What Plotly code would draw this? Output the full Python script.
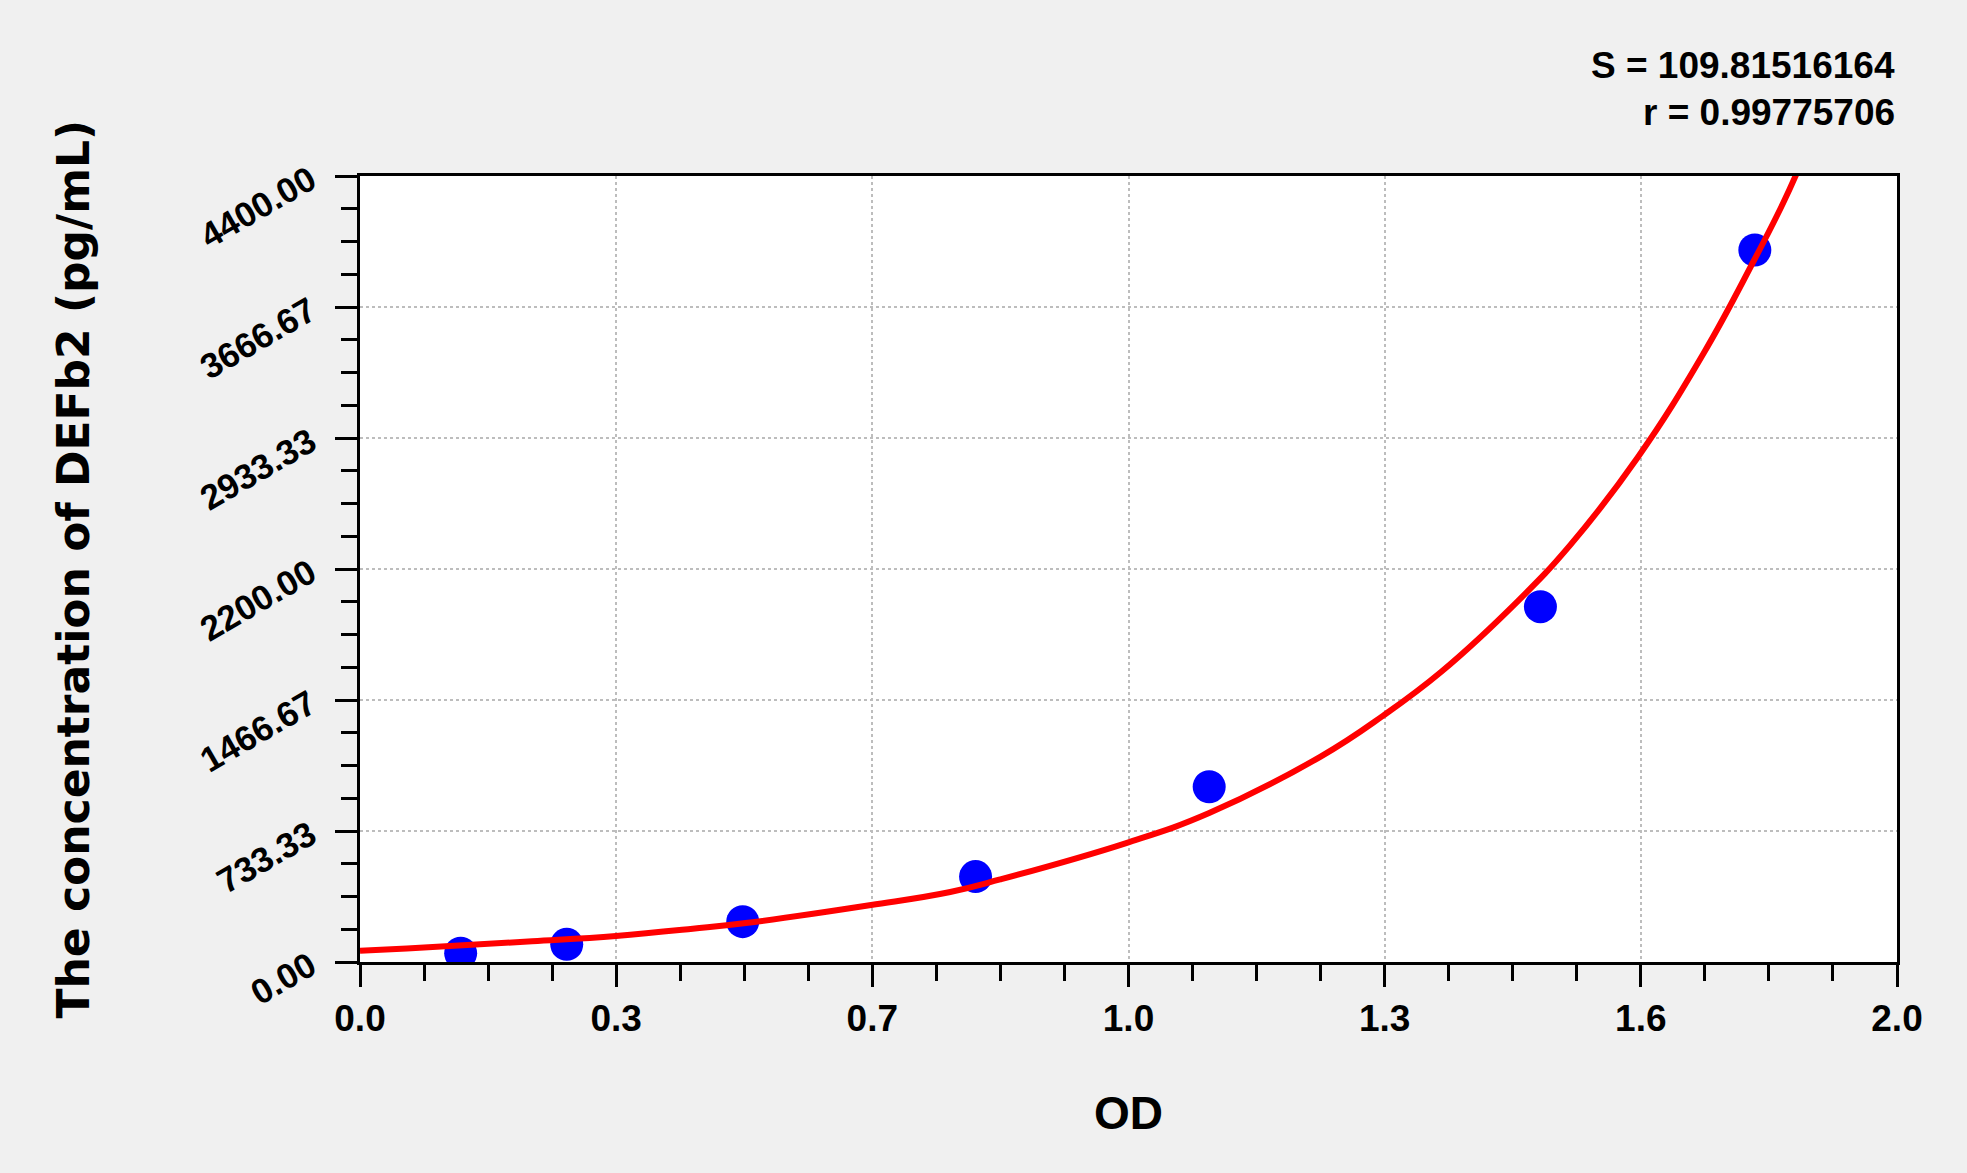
import plotly.graph_objects as go

# Standard points (OD vs concentration)
od_points = [0.131, 0.269, 0.498, 0.801, 1.105, 1.536, 1.815]
conc_points = [49, 99, 226, 478, 981, 1989, 3986]

# Fitted curve
od_curve = [0.000, 0.061, 0.224, 0.333, 0.433, 0.502, 0.665, 0.768, 0.833, 0.997,
            1.105, 1.250, 1.331, 1.407, 1.507, 1.575, 1.663, 1.748, 1.813, 1.852, 1.874]
conc_curve = [63, 76, 116, 146, 186, 218, 319, 392, 462, 666,
              834, 1150, 1378, 1625, 2022, 2335, 2827, 3405, 3920, 4250, 4460]

# Axis ticks
x_tickvals = [0, 1/3, 2/3, 1, 4/3, 5/3, 2]
x_ticktext = ['0.0', '0.3', '0.7', '1.0', '1.3', '1.6', '2.0']
x_minor = [i / 12 for i in range(25)]
y_tickvals = [0, 733.33, 1466.67, 2200, 2933.33, 3666.67, 4400]
y_ticktext = ['0.00', '733.33', '1466.67', '2200.00', '2933.33', '3666.67', '4400.00']
y_minor = [i * 4400 / 24 for i in range(25)]

fit_s = 'S = 109.81516164'
fit_r = 'r = 0.99775706'

FONT = 'Liberation Sans, Arial'

fig = go.Figure()
fig.add_trace(go.Scatter(x=od_points, y=conc_points, mode='markers',
                         marker=dict(color='#0000FF', size=33), showlegend=False))
fig.add_trace(go.Scatter(x=od_curve, y=conc_curve, mode='lines',
                         line=dict(color='#FF0000', width=6, shape='spline', smoothing=1.2),
                         showlegend=False))

axis_common = dict(showline=True, linewidth=3, linecolor='black', mirror=True,
                   ticks='outside', ticklen=22, tickwidth=2.5, tickcolor='black',
                   showgrid=True, gridcolor='#BDBDBD', griddash='dot', gridwidth=1.5,
                   zeroline=False)

fig.update_xaxes(range=[0, 2], tickmode='array', tickvals=x_tickvals, ticktext=x_ticktext,
                 tickfont=dict(family=FONT, size=37, color='black', weight='bold'),
                 minor=dict(tickmode='array', tickvals=x_minor, ticks='outside', ticklen=16,
                            tickwidth=2.5, tickcolor='black', showgrid=False),
                 **axis_common)
fig.update_yaxes(range=[0, 4400], tickmode='array', tickvals=y_tickvals, ticktext=y_ticktext,
                 tickangle=-30, ticklabelstandoff=18,
                 tickfont=dict(family=FONT, size=35, color='black', weight='bold'),
                 minor=dict(tickmode='array', tickvals=y_minor, ticks='outside', ticklen=16,
                            tickwidth=2.5, tickcolor='black', showgrid=False),
                 **axis_common)

# Axis titles and fit stats as annotations
fig.add_annotation(text='OD', xref='paper', yref='paper', x=0.5, y=-0.192,
                   showarrow=False, xanchor='center', yanchor='middle',
                   font=dict(family=FONT, size=46, color='black', weight='bold'))
fig.add_annotation(text='The concentration of DEFb2 (pg/mL)', xref='paper', yref='paper',
                   x=-0.187, y=0.5, textangle=-90, showarrow=False,
                   xanchor='center', yanchor='middle',
                   font=dict(family='DejaVu Sans', size=44, color='black', weight='bold'))
fig.add_annotation(text=fit_s, xref='paper', yref='paper', x=1.0, y=1.141,
                   showarrow=False, xanchor='right', yanchor='middle',
                   font=dict(family=FONT, size=37, color='black', weight='bold'))
fig.add_annotation(text=fit_r, xref='paper', yref='paper', x=1.0, y=1.081,
                   showarrow=False, xanchor='right', yanchor='middle',
                   font=dict(family=FONT, size=37, color='black', weight='bold'))

fig.update_layout(width=1967, height=1173,
                  margin=dict(l=360, r=70, t=176, b=211),
                  paper_bgcolor='#F0F0F0', plot_bgcolor='white')

# drop the default page margin so the figure sits at the window edge
fig.write_html('out.html', config={'displayModeBar': False},
               post_script="document.body.style.margin='0';document.body.style.background='#F0F0F0';")
